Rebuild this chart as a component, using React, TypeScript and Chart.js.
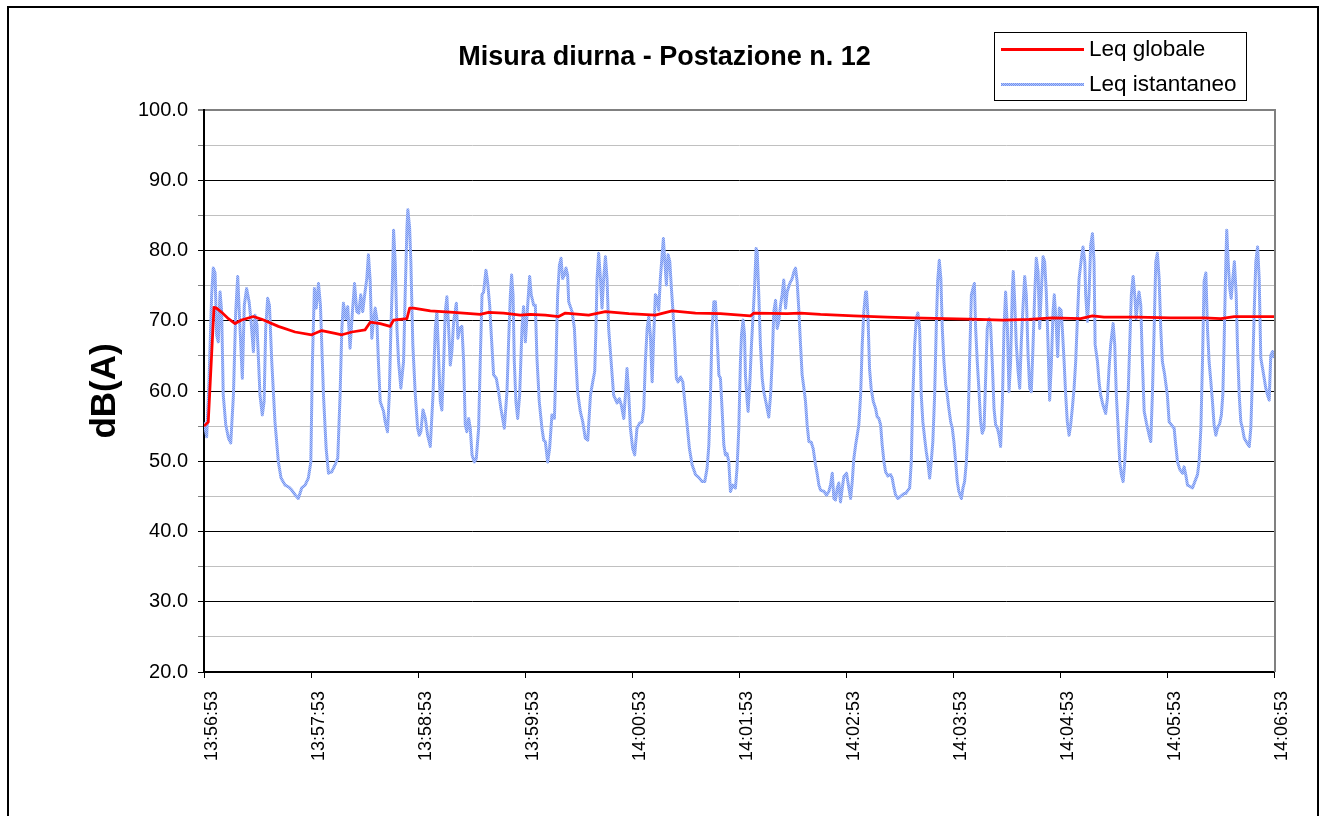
import React, { useEffect, useRef } from 'react';
import { Chart, registerables } from 'chart.js';

Chart.register(...registerables);

const FONT = "'Liberation Sans', Arial, Helvetica, sans-serif";

const CHART_TITLE = 'Misura diurna - Postazione n. 12';
const Y_AXIS_TITLE = 'dB(A)';
const SERIES_GLOBAL = 'Leq globale';
const SERIES_INSTANT = 'Leq istantaneo';

const TIME_LABELS = [
  '13:56:53', '13:57:53', '13:58:53', '13:59:53', '14:00:53', '14:01:53',
  '14:02:53', '14:03:53', '14:04:53', '14:05:53', '14:06:53',
];
const X_MIN_S = 0;
const X_MAX_S = 600;
const X_STEP_S = 60;
const Y_MIN = 20;
const Y_MAX = 100;
const Y_STEP = 5;

// [seconds after 13:56:53, dB(A)]
const LEQ_GLOBAL: [number, number][] = [
  [0, 55.0], [2.4, 55.6], [5.6, 71.9], [7.0, 71.8], [9.9, 71.2], [13.7, 70.3], [17.4, 69.6],
  [21.1, 70.1], [27.7, 70.6], [32.4, 70.2], [41.7, 69.2], [51.1, 68.4], [60.4, 68.0], [66.0, 68.6],
  [73.5, 68.2], [77.3, 68.0], [82.9, 68.4], [90.3, 68.7], [93.2, 69.8], [98.8, 69.6], [104.4, 69.2],
  [106.3, 70.1], [113.8, 70.3], [115.3, 71.8], [117.5, 71.8], [126.9, 71.4], [140.0, 71.2],
  [154.9, 70.9], [159.6, 71.2], [168.0, 71.1], [177.4, 70.8], [183.0, 70.9], [191.4, 70.8],
  [198.9, 70.6], [202.6, 71.1], [215.7, 70.8], [225.1, 71.3], [238.2, 71.0], [253.1, 70.8],
  [262.5, 71.4], [275.6, 71.1], [289.6, 71.0], [306.4, 70.7], [308.3, 71.1], [327.0, 71.0],
  [334.5, 71.1], [345.7, 70.9], [364.4, 70.7], [383.1, 70.5], [397.2, 70.4], [415.9, 70.3],
  [434.6, 70.2], [447.7, 70.1], [462.6, 70.2], [475.7, 70.4], [491.6, 70.3], [498.2, 70.7],
  [504.7, 70.5], [523.4, 70.5], [542.1, 70.4], [560.8, 70.4], [570.2, 70.3], [577.7, 70.6],
  [600, 70.6],
];

// [seconds after 13:56:53, dB(A)]
const LEQ_INSTANT: [number, number][] = [
  [0, 55.6], [1.5, 53.5], [2.8, 61.3], [4.3, 73.7], [5.2, 77.5], [6.2, 76.8], [7.1, 68.0], [8.0, 67.0],
  [9.0, 74.1], [9.9, 71.3], [10.8, 59.4], [12.2, 55.2], [13.7, 53.3], [15.0, 52.6], [16.5, 59.4],
  [17.8, 71.3], [18.9, 76.3], [20.2, 68.9], [21.5, 61.8], [22.6, 72.2], [23.9, 74.6], [25.3, 72.7],
  [26.4, 69.9], [27.7, 65.6], [28.6, 70.8], [29.7, 69.4], [31.4, 59.4], [32.7, 56.6], [33.7, 58.5],
  [34.6, 68.9], [35.7, 73.2], [36.7, 72.2], [38.0, 64.2], [39.8, 55.6], [41.7, 49.9], [43.2, 47.6],
  [45.5, 46.6], [47.7, 46.3], [49.2, 45.9], [51.1, 45.2], [52.9, 44.7], [54.8, 46.2], [56.7, 46.6],
  [58.5, 47.6], [59.9, 49.9], [60.8, 64.2], [61.9, 74.6], [62.9, 71.8], [64.2, 75.3], [65.3, 72.2],
  [67.0, 59.4], [68.5, 51.8], [69.8, 48.3], [71.6, 48.5], [73.5, 49.5], [75.0, 50.4], [76.3, 59.4],
  [77.3, 68.9], [78.2, 72.5], [79.5, 70.3], [80.6, 72.0], [81.9, 66.1], [83.1, 70.8], [84.4, 75.3],
  [85.7, 71.3], [86.8, 71.1], [87.9, 73.7], [89.0, 71.3], [90.3, 74.1], [91.3, 76.0], [92.2, 79.4],
  [93.2, 75.6], [94.1, 67.5], [95.0, 69.9], [96.0, 71.8], [96.9, 70.3], [97.8, 64.2], [98.8, 58.5],
  [100.7, 57.1], [101.6, 55.6], [102.9, 54.2], [103.9, 59.4], [104.8, 68.9], [105.7, 76.0], [106.3, 82.9],
  [107.2, 78.4], [108.2, 68.9], [109.1, 64.2], [110.4, 60.4], [111.9, 64.2], [112.8, 73.7], [113.8, 83.2],
  [114.3, 85.8], [115.3, 83.2], [116.0, 78.4], [117.1, 66.6], [118.5, 59.4], [119.8, 54.7], [120.7, 53.7],
  [121.6, 54.2], [122.8, 57.3], [124.1, 56.1], [125.4, 53.7], [126.9, 52.1], [128.4, 59.4], [129.7, 68.9],
  [130.6, 71.3], [131.5, 65.1], [132.5, 58.5], [133.4, 57.3], [134.4, 64.2], [135.3, 71.3], [136.2, 73.4],
  [137.2, 68.9], [138.1, 63.7], [139.0, 65.6], [140.0, 69.9], [141.5, 72.5], [142.4, 67.5], [143.3, 68.9],
  [144.6, 69.2], [145.6, 64.2], [146.5, 55.2], [147.4, 54.2], [148.4, 56.1], [149.3, 54.7], [150.3, 50.9],
  [151.6, 49.9], [152.7, 50.4], [154.0, 54.7], [154.9, 64.2], [155.9, 73.7], [156.8, 74.1], [158.1, 77.2],
  [159.0, 75.6], [160.2, 72.2], [161.1, 68.0], [162.4, 62.3], [163.9, 61.8], [165.2, 59.9], [166.5, 57.5],
  [168.4, 54.7], [169.9, 59.9], [170.8, 67.0], [171.8, 73.7], [172.5, 76.5], [173.3, 73.7], [174.0, 64.2],
  [174.9, 58.5], [175.9, 56.1], [177.0, 59.4], [178.3, 68.9], [179.2, 72.0], [180.2, 67.0], [181.5, 72.2],
  [182.6, 76.3], [183.5, 73.7], [184.9, 72.2], [185.8, 72.2], [186.7, 64.7], [188.0, 58.5], [189.5, 54.7],
  [190.5, 53.0], [191.4, 52.8], [192.7, 49.9], [193.8, 51.8], [195.1, 56.6], [196.5, 56.1], [197.4, 64.2],
  [198.3, 73.7], [199.3, 77.9], [200.2, 78.9], [201.1, 76.0], [202.1, 76.5], [203.0, 77.5], [203.9, 76.5],
  [204.5, 72.7], [206.4, 71.3], [207.7, 68.9], [208.6, 64.2], [209.5, 59.9], [211.0, 57.1], [212.4, 55.6],
  [213.8, 53.3], [215.2, 53.0], [216.7, 59.4], [218.0, 61.3], [219.1, 62.8], [219.8, 68.9], [220.4, 76.0],
  [221.3, 79.6], [222.3, 76.0], [223.2, 71.8], [224.1, 76.0], [225.1, 79.1], [226.0, 76.0], [226.9, 68.9],
  [228.3, 64.2], [229.7, 59.4], [231.6, 58.3], [232.9, 58.9], [234.0, 58.0], [235.4, 56.1], [236.3, 59.4],
  [237.2, 63.2], [238.2, 59.4], [239.1, 54.7], [240.4, 51.8], [241.5, 50.9], [242.8, 54.7], [244.2, 55.4],
  [245.6, 55.6], [246.6, 57.5], [247.5, 64.2], [248.5, 68.9], [249.4, 70.6], [250.3, 68.0], [251.3, 61.3],
  [252.2, 68.0], [253.1, 73.7], [254.1, 73.2], [255.0, 71.5], [255.9, 76.0], [256.9, 79.4], [257.6, 81.7],
  [258.4, 78.4], [259.3, 75.1], [260.2, 79.4], [261.2, 78.4], [262.1, 74.6], [263.0, 71.3], [264.0, 66.6],
  [264.9, 61.8], [265.8, 61.3], [267.2, 62.0], [268.5, 61.3], [269.6, 58.5], [270.9, 55.2], [272.2, 51.8],
  [273.7, 49.5], [275.6, 48.1], [277.4, 47.7], [279.3, 47.1], [280.8, 47.1], [282.1, 49.0], [283.1, 52.3],
  [284.0, 59.4], [284.9, 68.9], [285.9, 72.7], [286.8, 72.7], [287.7, 68.0], [288.7, 62.3], [289.6, 61.8],
  [290.5, 57.5], [291.5, 52.3], [292.4, 50.9], [293.3, 51.1], [294.3, 49.9], [295.2, 45.7], [296.5, 46.6],
  [298.0, 46.2], [298.9, 49.0], [299.9, 54.7], [300.8, 64.2], [301.4, 68.0], [302.3, 70.1], [303.1, 68.0],
  [303.6, 62.3], [304.6, 58.5], [305.1, 57.1], [306.1, 61.3], [307.0, 66.6], [307.9, 70.8], [308.7, 74.6],
  [309.6, 80.3], [310.2, 79.8], [311.1, 73.7], [312.0, 66.6], [313.0, 61.8], [313.9, 59.9], [315.2, 58.3],
  [316.7, 56.3], [317.7, 59.4], [318.6, 64.2], [319.5, 71.3], [320.5, 72.9], [321.4, 68.9], [322.3, 69.9],
  [323.3, 72.2], [324.2, 73.7], [325.1, 75.8], [326.1, 71.8], [327.0, 74.1], [328.3, 75.2], [329.8, 76.0],
  [330.8, 77.0], [331.7, 77.5], [332.6, 75.6], [333.6, 71.3], [334.5, 66.6], [335.4, 62.3], [336.4, 60.4],
  [337.3, 58.5], [338.2, 55.2], [339.2, 52.8], [340.5, 52.7], [341.6, 51.8], [342.9, 49.5], [343.9, 48.1],
  [344.8, 46.6], [345.7, 45.9], [347.6, 45.7], [349.1, 45.2], [350.4, 45.7], [351.3, 46.6], [352.3, 48.3],
  [353.2, 44.7], [354.1, 44.5], [355.1, 46.2], [356.0, 46.9], [356.9, 44.2], [357.9, 46.2], [358.8, 47.8],
  [360.3, 48.3], [361.6, 46.2], [362.6, 44.7], [363.5, 47.1], [364.4, 50.4], [365.4, 52.3], [366.3, 53.7],
  [367.2, 55.2], [368.2, 59.4], [369.1, 66.6], [370.0, 71.3], [371.0, 74.1], [371.5, 74.1], [372.3, 70.8],
  [373.2, 63.2], [374.1, 60.4], [375.3, 58.5], [376.6, 57.5], [377.5, 56.3], [378.4, 56.1], [379.4, 55.2],
  [380.3, 52.3], [381.3, 49.9], [382.2, 48.5], [383.5, 47.9], [385.0, 48.1], [385.9, 47.6], [386.9, 46.2],
  [387.8, 45.2], [389.1, 44.7], [390.6, 45.0], [392.5, 45.4], [393.4, 45.4], [395.7, 46.2], [396.6, 49.9],
  [397.5, 59.4], [398.5, 66.6], [399.4, 70.3], [400.3, 71.1], [401.3, 68.9], [402.2, 59.4], [403.1, 55.6],
  [404.1, 53.3], [405.0, 51.4], [405.9, 49.9], [406.9, 47.6], [407.8, 49.9], [408.7, 52.8], [409.7, 59.4],
  [410.6, 68.9], [411.4, 75.6], [412.3, 78.6], [413.2, 76.0], [414.0, 68.9], [414.9, 64.2], [415.9, 60.9],
  [416.8, 59.4], [417.7, 57.5], [418.7, 55.6], [419.6, 54.7], [420.5, 52.8], [421.5, 49.9], [422.4, 47.1],
  [423.3, 45.7], [424.7, 44.7], [425.6, 46.2], [426.5, 47.1], [427.5, 49.9], [428.4, 54.7], [429.3, 64.2],
  [430.3, 73.7], [431.2, 74.6], [432.0, 75.3], [432.7, 68.9], [433.6, 64.2], [434.6, 59.9], [435.5, 55.6],
  [436.4, 54.0], [437.4, 54.7], [438.3, 61.8], [439.2, 68.9], [440.2, 70.3], [441.1, 69.4], [442.0, 64.2],
  [443.0, 57.5], [443.9, 55.2], [444.9, 54.7], [445.8, 53.7], [446.7, 52.1], [447.7, 58.5], [448.6, 68.9],
  [449.5, 74.1], [450.5, 68.9], [451.4, 59.9], [452.3, 64.2], [453.3, 74.6], [453.8, 77.0], [454.6, 72.7],
  [455.5, 66.6], [456.5, 62.8], [457.4, 60.4], [458.3, 67.0], [459.3, 72.2], [460.2, 76.3], [461.1, 73.7],
  [462.1, 65.1], [463.0, 60.4], [463.9, 59.9], [464.9, 66.6], [465.8, 73.7], [466.7, 78.9], [467.7, 77.0],
  [468.6, 68.9], [469.5, 74.1], [470.5, 79.1], [471.4, 78.4], [472.3, 74.1], [473.3, 66.6], [474.2, 58.7],
  [475.2, 64.2], [476.1, 71.3], [476.8, 73.7], [477.8, 69.9], [478.7, 64.9], [479.6, 71.8], [480.6, 71.5],
  [481.3, 68.9], [482.3, 64.2], [483.2, 59.4], [484.1, 55.6], [485.1, 53.7], [486.0, 55.2], [486.9, 57.5],
  [487.9, 60.4], [488.8, 64.2], [489.7, 69.9], [490.7, 76.0], [492.0, 78.9], [492.9, 80.5], [493.9, 78.4],
  [494.4, 73.7], [495.4, 69.9], [496.3, 73.7], [497.2, 80.8], [498.2, 82.4], [499.1, 78.4], [499.7, 66.6],
  [501.0, 64.2], [501.9, 61.3], [502.8, 59.4], [504.1, 58.0], [505.6, 56.8], [506.6, 59.0], [507.5, 63.2],
  [508.4, 66.6], [509.8, 69.6], [510.7, 66.6], [511.6, 59.4], [512.6, 54.7], [513.5, 49.9], [514.4, 48.1],
  [515.4, 47.1], [516.3, 49.9], [517.2, 54.7], [518.2, 59.4], [519.1, 66.6], [520.0, 73.7], [521.0, 76.3],
  [521.9, 73.7], [522.7, 70.3], [523.4, 72.2], [524.3, 74.1], [525.3, 72.2], [526.2, 64.2], [527.2, 57.1],
  [528.5, 55.4], [530.0, 53.7], [530.9, 52.8], [531.8, 59.4], [532.8, 68.9], [533.7, 78.4], [534.6, 79.6],
  [535.6, 76.0], [536.5, 68.9], [537.4, 64.2], [538.7, 62.3], [540.2, 59.4], [541.2, 55.6], [542.7, 55.1],
  [544.0, 54.7], [544.9, 52.3], [545.9, 49.9], [547.2, 48.8], [548.7, 48.3], [549.6, 49.2], [550.5, 48.1],
  [551.5, 46.6], [553.0, 46.4], [554.3, 46.2], [555.6, 47.1], [557.1, 48.1], [558.0, 49.9], [559.0, 54.7],
  [559.9, 64.2], [560.8, 75.6], [561.8, 76.8], [562.7, 68.9], [563.6, 64.2], [564.6, 61.3], [565.5, 58.5],
  [566.4, 55.2], [567.4, 53.7], [568.3, 54.7], [569.6, 55.4], [570.5, 56.6], [571.3, 59.4], [572.0, 66.6],
  [573.0, 78.4], [573.5, 82.9], [574.3, 78.4], [575.2, 74.6], [576.0, 73.2], [576.9, 76.0], [577.8, 78.4],
  [578.8, 73.7], [579.5, 66.6], [580.5, 59.4], [581.4, 55.6], [582.3, 54.7], [583.3, 53.3], [584.6, 52.7],
  [586.1, 52.1], [587.0, 54.7], [587.9, 61.8], [588.9, 71.3], [589.8, 78.4], [590.8, 80.5], [591.7, 76.0],
  [592.6, 64.7], [593.6, 63.2], [594.5, 61.8], [595.4, 60.4], [596.4, 59.4], [597.3, 58.7], [598.2, 65.1],
  [599.2, 65.6], [600, 64.7],
];

function makeStipple(): CanvasPattern | string {
  const pc = document.createElement('canvas');
  pc.width = 2;
  pc.height = 2;
  const p = pc.getContext('2d');
  if (!p) return '#8eaaf4';
  p.fillStyle = '#b3c5fa';
  p.fillRect(0, 0, 2, 2);
  p.fillStyle = '#7394f1';
  p.fillRect(0, 0, 1, 1);
  p.fillRect(1, 1, 1, 1);
  const pat = p.createPattern(pc, 'repeat');
  return pat || '#8eaaf4';
}

export default function App() {
  const canvasRef = useRef<HTMLCanvasElement | null>(null);

  useEffect(() => {
    const canvas = canvasRef.current;
    if (!canvas) return;
    const blue = makeStipple();

    const decor = {
      id: 'decor',
      beforeDatasetsDraw(chart: any) {
        const { ctx, chartArea: a } = chart;
        ctx.save();
        ctx.strokeStyle = '#808080';
        ctx.lineWidth = 2;
        ctx.beginPath();
        ctx.moveTo(a.right + 1, a.top - 1);
        ctx.lineTo(a.right + 1, a.bottom);
        ctx.stroke();
        ctx.restore();
      },
      afterDraw(chart: any) {
        const { ctx } = chart;
        ctx.save();
        // title
        ctx.fillStyle = '#000';
        ctx.font = `bold 27px ${FONT}`;
        ctx.textAlign = 'center';
        ctx.textBaseline = 'middle';
        ctx.fillText(CHART_TITLE, 664.5, 58);
        // legend
        ctx.strokeStyle = '#000';
        ctx.lineWidth = 1;
        ctx.strokeRect(994.5, 32.5, 252, 68);
        ctx.lineWidth = 3;
        ctx.strokeStyle = '#ff0000';
        ctx.beginPath();
        ctx.moveTo(1001, 49.5);
        ctx.lineTo(1084, 49.5);
        ctx.stroke();
        ctx.strokeStyle = blue;
        ctx.beginPath();
        ctx.moveTo(1001, 84.5);
        ctx.lineTo(1084, 84.5);
        ctx.stroke();
        ctx.fillStyle = '#000';
        ctx.font = `22.5px ${FONT}`;
        ctx.textAlign = 'left';
        ctx.textBaseline = 'middle';
        ctx.fillText(SERIES_GLOBAL, 1089, 50);
        ctx.fillText(SERIES_INSTANT, 1089, 85);
        ctx.restore();
      },
    };

    const chart = new Chart(canvas, {
      type: 'line',
      data: {
        datasets: [
          {
            label: SERIES_GLOBAL,
            data: LEQ_GLOBAL.map(([t, v]) => ({ x: t, y: v })),
            borderColor: '#ff0000',
            borderWidth: 2.75,
            pointRadius: 0,
            tension: 0,
            fill: false,
            borderJoinStyle: 'round',
            order: 0,
          },
          {
            label: SERIES_INSTANT,
            data: LEQ_INSTANT.map(([t, v]) => ({ x: t, y: v })),
            borderColor: blue as any,
            borderWidth: 3,
            pointRadius: 0,
            tension: 0,
            fill: false,
            borderJoinStyle: 'round',
            order: 1,
          },
        ],
      },
      options: {
        animation: false,
        responsive: false,
        maintainAspectRatio: false,
        devicePixelRatio: 1,
        events: [],
        layout: { padding: { left: 20, top: 110, right: 51, bottom: 0 } },
        plugins: {
          legend: { display: false },
          title: { display: false },
          tooltip: { enabled: false },
        },
        scales: {
          x: {
            type: 'linear',
            min: X_MIN_S,
            max: X_MAX_S,
            afterFit: (s: any) => {
              s.height = 144;
            },
            ticks: {
              stepSize: X_STEP_S,
              autoSkip: false,
              minRotation: 90,
              maxRotation: 90,
              padding: 13,
              labelOffset: 8,
              color: '#000',
              font: { family: FONT, size: 18 },
              callback: (v: any) => TIME_LABELS[Math.round((Number(v) - X_MIN_S) / X_STEP_S)] ?? '',
            },
            grid: {
              drawOnChartArea: false,
              drawTicks: true,
              tickLength: 6,
              color: '#000',
              tickWidth: 1,
            },
            border: { display: true, color: '#000', width: 2 },
          },
          y: {
            type: 'linear',
            min: Y_MIN,
            max: Y_MAX,
            afterFit: (s: any) => {
              s.width = 184;
            },
            ticks: {
              stepSize: Y_STEP,
              autoSkip: false,
              padding: 10,
              color: '#000',
              font: { family: FONT, size: 20 },
              callback: (v: any) => (Number(v) % 10 === 0 ? Number(v).toFixed(1) : ''),
            },
            grid: {
              drawTicks: true,
              tickLength: 6,
              color: (c: any) => {
                const v = c.tick ? c.tick.value : 0;
                if (v === Y_MAX) return '#808080';
                return v % 10 === 0 ? '#000000' : '#c0c0c0';
              },
              lineWidth: (c: any) => (c.tick && c.tick.value === Y_MAX ? 2 : 1),
              tickColor: (c: any) => (c.tick && c.tick.value % 10 === 0 ? '#000000' : '#808080'),
              tickWidth: 1,
            },
            border: { display: true, color: '#000', width: 2 },
            title: {
              display: true,
              text: Y_AXIS_TITLE,
              color: '#000',
              font: { family: FONT, size: 35, weight: 'bold' },
              padding: { top: 64, bottom: 0 },
            },
          },
        },
      },
      plugins: [decor],
    } as any);

    return () => {
      chart.destroy();
    };
  }, []);

  return (
    <div
      style={{
        position: 'absolute',
        left: 0,
        top: 0,
        width: 1325,
        height: 816,
        overflow: 'hidden',
        background: '#ffffff',
      }}
    >
      <div
        style={{
          position: 'absolute',
          left: 7,
          top: 6,
          width: 1312,
          height: 840,
          border: '2px solid #000',
          boxSizing: 'border-box',
        }}
      />
      <canvas
        ref={canvasRef}
        width={1325}
        height={816}
        style={{ position: 'absolute', left: 0, top: 0, width: 1325, height: 816 }}
      />
    </div>
  );
}
